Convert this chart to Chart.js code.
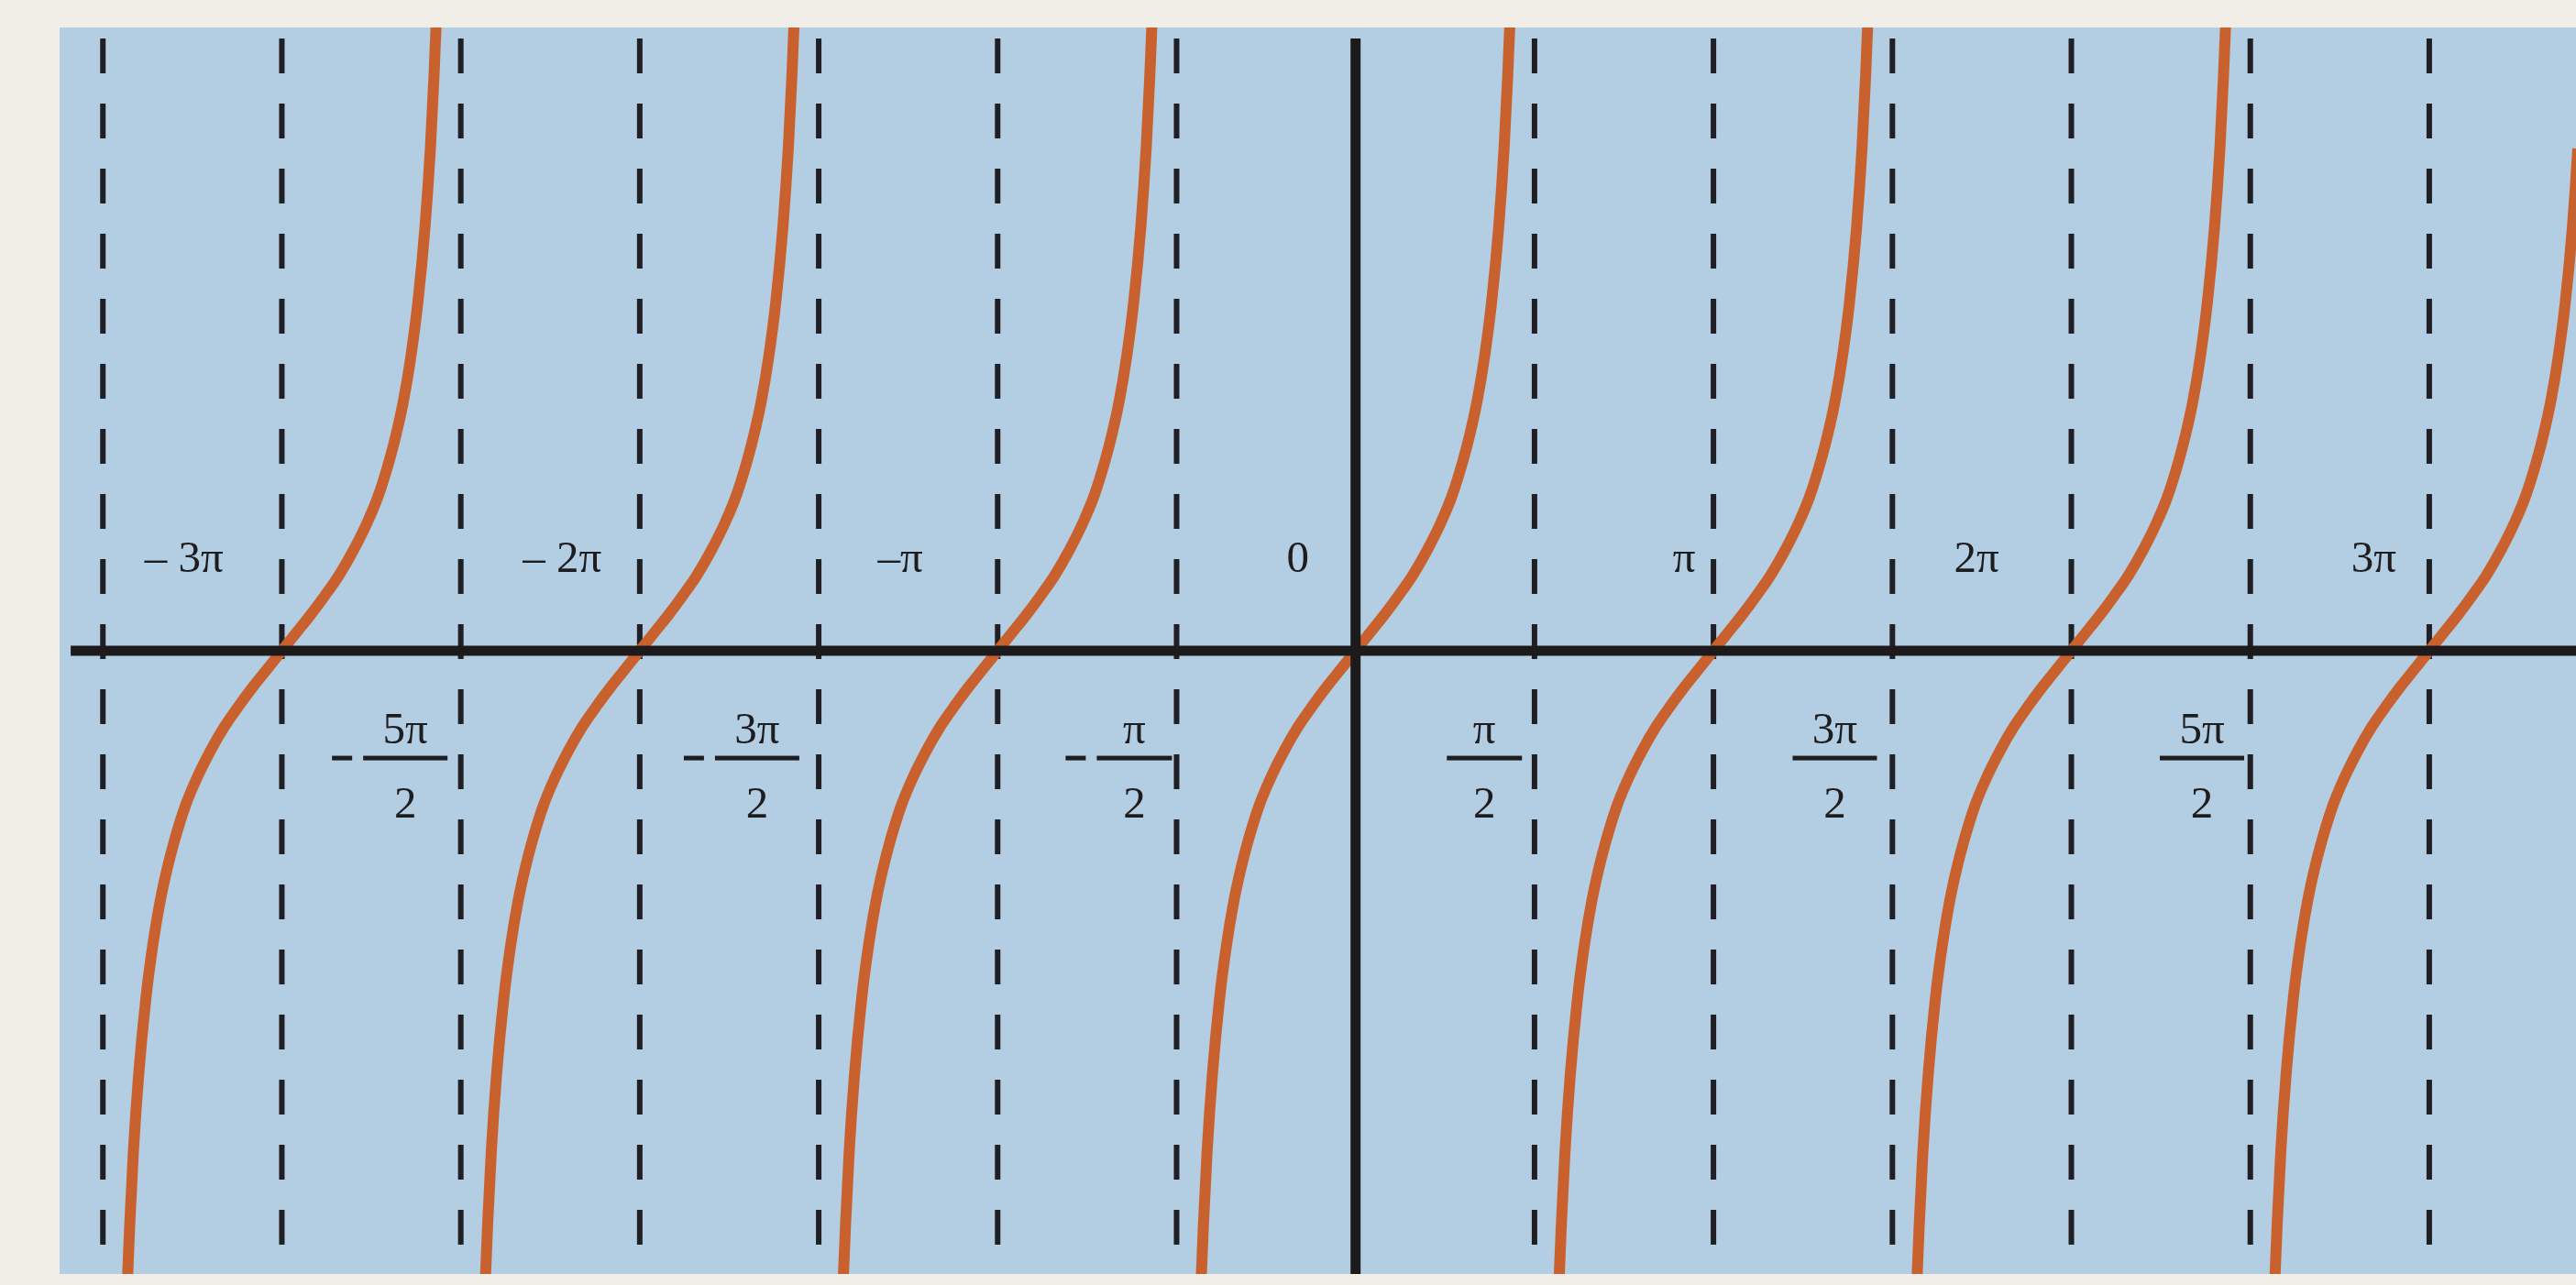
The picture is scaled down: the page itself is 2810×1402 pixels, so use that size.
<!DOCTYPE html>
<html>
<head>
<meta charset="utf-8">
<script src="https://cdn.jsdelivr.net/npm/chart.js@4"></script>
<style>
  html, body { margin: 0; padding: 0; background: #f1eee8; }
  #wrap { width: 2810px; height: 1402px; }
</style>
</head>
<body>
<div id="wrap"><canvas id="c" width="2810" height="1402"></canvas></div>
<script>
// ---- data (x in multiples of π, y in tan units) ----
const branchCenters = [-3, -2, -1, 0, 1, 2, 3];
const branchOffsets = [-0.433, -0.425, -0.415, -0.40, -0.38, -0.36, -0.34, -0.32, -0.30, -0.27, -0.24, -0.20, -0.16, -0.12, -0.08, -0.04, 0,
                        0.04, 0.08, 0.12, 0.16, 0.20, 0.24, 0.27, 0.30, 0.32, 0.34, 0.36, 0.38, 0.40, 0.415, 0.425, 0.433];
const branchValues  = [-4.68, -4.17, -3.65, -3.08, -2.53, -2.13, -1.82, -1.58, -1.38, -1.13, -0.94, -0.73, -0.55, -0.40, -0.26, -0.13, 0,
                        0.13, 0.26, 0.40, 0.55, 0.73, 0.94, 1.13, 1.38, 1.58, 1.82, 2.13, 2.53, 3.08, 3.65, 4.17, 4.68];
const dashedAt = [-3.5, -3, -2.5, -2, -1.5, -1, -0.5, 0.5, 1, 1.5, 2, 2.5, 3];
const topLabels = ['\u2013 3\u03c0', '\u2013 2\u03c0', '\u2013\u03c0', '0', '\u03c0', '2\u03c0', '3\u03c0'];
const topLabelX = [-3.273, -2.217, -1.272, -0.161, 0.918, 1.735, 2.845];
const fracNums = ['5\u03c0', '3\u03c0', '\u03c0', '\u03c0', '3\u03c0', '5\u03c0'];
const fracDen = '2';
const fracNeg = [true, true, true, false, false, false];
const fracX = [-2.655, -1.672, -0.618, 0.360, 1.339, 2.365];

const X_MIN = -3.621, X_MAX = 3.410, Y_MIN = -4.53, Y_MAX = 4.53;

// ---- datasets ----
const datasets = [];
// axes
datasets.push({ data: [{x: -3.59, y: 0}, {x: X_MAX, y: 0}], borderColor: '#1c1a1a', borderWidth: 11, order: 1 });
datasets.push({ data: [{x: 0, y: 4.45}, {x: 0, y: Y_MIN}], borderColor: '#1c1a1a', borderWidth: 11, order: 1 });
// tangent branches
branchCenters.forEach(c => {
  datasets.push({
    data: branchOffsets.map((o, i) => ({x: c + o, y: branchValues[i]})),
    borderColor: '#c9612f', borderWidth: 12, cubicInterpolationMode: 'monotone', order: 2
  });
});
// dashed verticals
dashedAt.forEach(v => {
  datasets.push({ data: [{x: v, y: 4.45}, {x: v, y: Y_MIN}], borderColor: '#1f1f24', borderWidth: 6,
                  borderDash: [38, 33], order: 3 });
});

const bgPlugin = {
  id: 'bg',
  beforeDraw(chart) {
    const {ctx, chartArea: a} = chart;
    ctx.save();
    ctx.fillStyle = '#f1eee8';
    ctx.fillRect(0, 0, chart.width, chart.height);
    ctx.fillStyle = '#b3cde2';
    ctx.fillRect(a.left, a.top, a.right - a.left, a.bottom - a.top);
    ctx.restore();
  }
};

const labelPlugin = {
  id: 'labels',
  afterDatasetsDraw(chart) {
    const {ctx, scales: {x, y}} = chart;
    ctx.save();
    ctx.fillStyle = '#1d1d1f';
    ctx.font = '49px "Liberation Serif", "DejaVu Serif", serif';
    ctx.textAlign = 'center';
    ctx.textBaseline = 'middle';
    topLabels.forEach((t, i) => ctx.fillText(t, x.getPixelForValue(topLabelX[i]), y.getPixelForValue(0.66)));
    fracNums.forEach((t, i) => {
      const cx = x.getPixelForValue(fracX[i]);
      const half = (t.length > 1 ? 46 : 41);
      ctx.fillText(t, cx, y.getPixelForValue(-0.59));
      ctx.fillText(fracDen, cx, y.getPixelForValue(-1.13));
      const by = y.getPixelForValue(-0.78);
      ctx.fillRect(cx - half, by - 2.5, half * 2, 5);
      if (fracNeg[i]) ctx.fillRect(cx - half - 34, by - 2.5, 22, 5);
    });
    ctx.restore();
  }
};

new Chart(document.getElementById('c'), {
  type: 'scatter',
  data: { datasets },
  options: {
    responsive: false,
    devicePixelRatio: 1,
    animation: false,
    showLine: true,
    layout: { padding: { left: 65, right: 0, top: 30, bottom: 12 } },
    elements: { point: { radius: 0, hoverRadius: 0 }, line: { borderCapStyle: 'butt', fill: false } },
    plugins: { legend: { display: false }, tooltip: { enabled: false } },
    scales: {
      x: { type: 'linear', min: X_MIN, max: X_MAX, display: false },
      y: { type: 'linear', min: Y_MIN, max: Y_MAX, display: false }
    }
  },
  plugins: [bgPlugin, labelPlugin]
});
</script>
</body>
</html>
